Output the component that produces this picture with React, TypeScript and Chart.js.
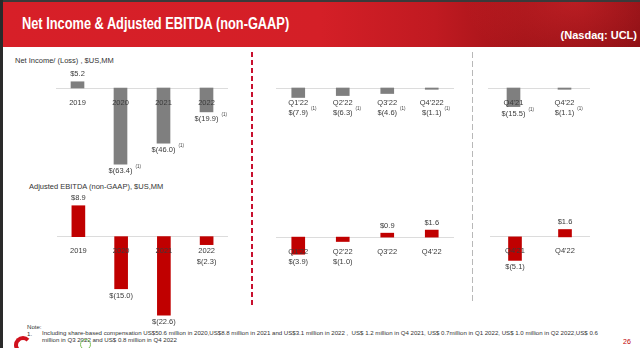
import React, { useEffect, useRef } from 'react';
import { Chart, registerables } from 'chart.js';

Chart.register(...registerables);

const FONT = "'Liberation Sans', Arial, Helvetica, sans-serif";

// Categories
const annualLabels = ['2019', '2020', '2021', '2022'];
const quarterLabelsNet = ["Q1'22", "Q2'22", "Q3'22", "Q4'222"];
const quarterLabelsEbitda = ["Q1'22", "Q2'22", "Q3'22", "Q4'22"];
const compareLabels = ["Q4'21", "Q4'22"];

// Net income / (loss), US$ MM
const netIncomeAnnual = [5.2, -63.4, -46.0, -19.9];
const netIncomeQuarterly = [-7.9, -6.3, -4.6, -1.1];
const netIncomeCompare = [-15.5, -1.1];

// Adjusted EBITDA (non-GAAP), US$ MM
const ebitdaAnnual = [8.9, -15.0, -22.6, -2.3];
const ebitdaQuarterly = [-3.9, -1.0, 0.9, 1.6];
const ebitdaCompare = [-5.1, 1.6];

// Footnote markers attached to value labels
const netIncomeAnnualNotes = ['', '(1)', '(1)', '(1)'];
const netIncomeQuarterlyNotes = ['(1)', '(1)', '(1)', '(1)'];
const netIncomeCompareNotes = ['(1)', '(1)'];

const GRAY = '#7f7f7f';
const RED = '#c00000';

const formatMoney = (v: number) =>
  v >= 0 ? `$${v.toFixed(1)}` : `$(${Math.abs(v).toFixed(1)})`;

// Draws "$x.x" / "$(x.x)" next to each bar, plus optional footnote markers
const valueLabels = {
  id: 'valueLabels',
  afterDraw(chart: any, _args: any, opts: any) {
    const { ctx } = chart;
    const meta = chart.getDatasetMeta(0);
    const values = chart.data.datasets[0].data as number[];
    const zero = chart.scales.y.getPixelForValue(0);
    const notes: string[] = (opts && opts.notes) || [];
    ctx.save();
    ctx.fillStyle = '#3a3a3a';
    ctx.textBaseline = 'middle';
    meta.data.forEach((bar: any, i: number) => {
      const v = values[i];
      const text = formatMoney(v);
      const y = v >= 0 ? bar.y - 7.5 : Math.max(bar.y + 7, zero + 25);
      ctx.font = `7.5px ${FONT}`;
      ctx.textAlign = 'center';
      ctx.fillText(text, bar.x, y);
      if (notes[i]) {
        const w = ctx.measureText(text).width;
        ctx.font = `4.5px ${FONT}`;
        ctx.textAlign = 'left';
        ctx.fillText(notes[i], bar.x + w / 2 + 3, y - 4);
      }
    });
    ctx.restore();
  },
};

type PanelProps = {
  left: number;
  top: number;
  width: number;
  height: number;
  labels: string[];
  values: number[];
  color: string;
  min: number;
  max: number;
  notes?: string[];
};

function BarPanel({ left, top, width, height, labels, values, color, min, max, notes }: PanelProps) {
  const ref = useRef<HTMLCanvasElement>(null);
  useEffect(() => {
    const chart = new Chart(ref.current as HTMLCanvasElement, {
      type: 'bar',
      data: {
        labels,
        datasets: [
          {
            data: values,
            backgroundColor: color,
            borderWidth: 0,
            barThickness: 13,
          },
        ],
      },
      options: {
        animation: false,
        responsive: false,
        maintainAspectRatio: false,
        layout: { padding: 0 },
        plugins: {
          legend: { display: false },
          tooltip: { enabled: false },
          valueLabels: { notes: notes || [] },
        } as any,
        scales: {
          x: {
            position: { y: 0 } as any,
            offset: true,
            grid: { display: false, drawTicks: false },
            border: { display: true, color: '#dcdcdc', width: 1 },
            ticks: {
              z: 1,
              color: '#3a3a3a',
              padding: 10,
              maxRotation: 0,
              autoSkip: false,
              font: { family: FONT, size: 7.5 },
            },
          },
          y: { display: false, min, max },
        },
      },
      plugins: [valueLabels as any],
    });
    return () => chart.destroy();
  }, []);
  return (
    <canvas
      ref={ref}
      width={width}
      height={height}
      style={{ position: 'absolute', left, top, width, height }}
    />
  );
}

const abs = (s: React.CSSProperties): React.CSSProperties => ({ position: 'absolute', ...s });

export default function App() {
  return (
    <div
      style={{
        position: 'fixed',
        left: 0,
        top: 0,
        width: 640,
        height: 348,
        overflow: 'hidden',
        background: '#ffffff',
        fontFamily: FONT,
      }}
    >
      {/* title banner */}
      <div
        style={abs({
          left: 0,
          top: 0,
          width: 640,
          height: 47,
          background:
            'radial-gradient(ellipse 110px 70px at 575px 0px, rgba(215,40,45,0.55), rgba(215,40,45,0) 100%), linear-gradient(90deg, #d71f28 0%, #d41f27 50%, #c01a21 68%, #a01318 82%, #8a0f14 100%)',
        })}
      />
      <div style={abs({ left: 0, top: 0, width: 640, height: 2, background: '#3a3a3a' })} />
      <div
        style={abs({
          left: 22,
          top: 13,
          color: '#ffffff',
          fontWeight: 'bold',
          fontSize: 16,
          lineHeight: '22px',
          whiteSpace: 'nowrap',
          transform: 'scaleX(0.8)',
          transformOrigin: 'left center',
        })}
      >
        Net Income &amp; Adjusted EBITDA (non-GAAP)
      </div>
      <div
        style={abs({
          right: 3,
          top: 29,
          color: '#ffffff',
          fontWeight: 'bold',
          fontSize: 11,
          lineHeight: '13px',
          whiteSpace: 'nowrap',
        })}
      >
        (Nasdaq: UCL)
      </div>
      <div style={abs({ left: 0, top: 0, width: 3, height: 348, background: '#2a2a2a' })} />

      {/* section captions */}
      <div style={abs({ left: 15, top: 56, fontSize: 7.5, lineHeight: '10px', color: '#333', whiteSpace: 'nowrap' })}>
        Net Income/ (Loss) , $US,MM
      </div>
      <div style={abs({ left: 29, top: 182, fontSize: 7.5, lineHeight: '10px', color: '#333', whiteSpace: 'nowrap' })}>
        Adjusted EBITDA (non-GAAP), $US,MM
      </div>

      {/* separators */}
      <div
        style={abs({
          left: 251,
          top: 52,
          width: 2,
          height: 253,
          background: 'repeating-linear-gradient(180deg, #c8102e 0px, #c8102e 5px, transparent 5px, transparent 8px)',
        })}
      />
      <div
        style={abs({
          left: 472,
          top: 52,
          width: 1,
          height: 252,
          background: 'repeating-linear-gradient(180deg, #b8b8b8 0px, #b8b8b8 6px, transparent 6px, transparent 9px)',
        })}
      />

      {/* net income */}
      <BarPanel left={56} top={64} width={172} height={114} labels={annualLabels} values={netIncomeAnnual} color={GRAY} min={-75} max={20} notes={netIncomeAnnualNotes} />
      <BarPanel left={276} top={64} width={178} height={114} labels={quarterLabelsNet} values={netIncomeQuarterly} color={GRAY} min={-75} max={20} notes={netIncomeQuarterlyNotes} />
      <BarPanel left={488} top={64} width={102} height={114} labels={compareLabels} values={netIncomeCompare} color={GRAY} min={-75} max={20} notes={netIncomeCompareNotes} />

      {/* adjusted EBITDA */}
      <BarPanel left={57} top={188} width={171} height={139} labels={annualLabels} values={ebitdaAnnual} color={RED} min={-26} max={14} />
      <BarPanel left={276} top={202} width={178} height={79} labels={quarterLabelsEbitda} values={ebitdaQuarterly} color={RED} min={-10} max={8} />
      <BarPanel left={490} top={200} width={100} height={83} labels={compareLabels} values={ebitdaCompare} color={RED} min={-10} max={8} />

      {/* footnote */}
      <div style={abs({ left: 27, top: 323, fontSize: 6.1, lineHeight: '7px', color: '#333', whiteSpace: 'nowrap' })}>
        Note:
      </div>
      <div style={abs({ left: 27, top: 330, fontSize: 6.1, lineHeight: '7px', color: '#333', whiteSpace: 'nowrap' })}>
        1.
      </div>
      <div style={abs({ left: 42, top: 330, fontSize: 6.1, lineHeight: '6.8px', color: '#333', whiteSpace: 'nowrap' })}>
        Including share-based compensation US$50.6 million in 2020,US$8.8 million in 2021 and US$3.1 million in 2022 ,&nbsp; US$ 1.2 million in Q4 2021, US$ 0.7million in Q1 2022, US$ 1.0 million in Q2 2022,US$ 0.6
        <br />
        million in Q3 2022 and US$ 0.8 million in Q4 2022
      </div>
      <div style={abs({ left: 623, top: 337, fontSize: 7, lineHeight: '9px', color: '#c00000' })}>26</div>

      {/* corner logo marks */}
      <div style={abs({ left: 14, top: 336, width: 18, height: 18, borderRadius: '50%', border: '4px solid #d0101c', borderRightColor: 'transparent', boxSizing: 'border-box' })} />
      <div style={abs({ left: 80, top: 339, width: 11, height: 11, borderRadius: '50%', border: '1px solid #7fbf5a', boxSizing: 'border-box' })} />
    </div>
  );
}
